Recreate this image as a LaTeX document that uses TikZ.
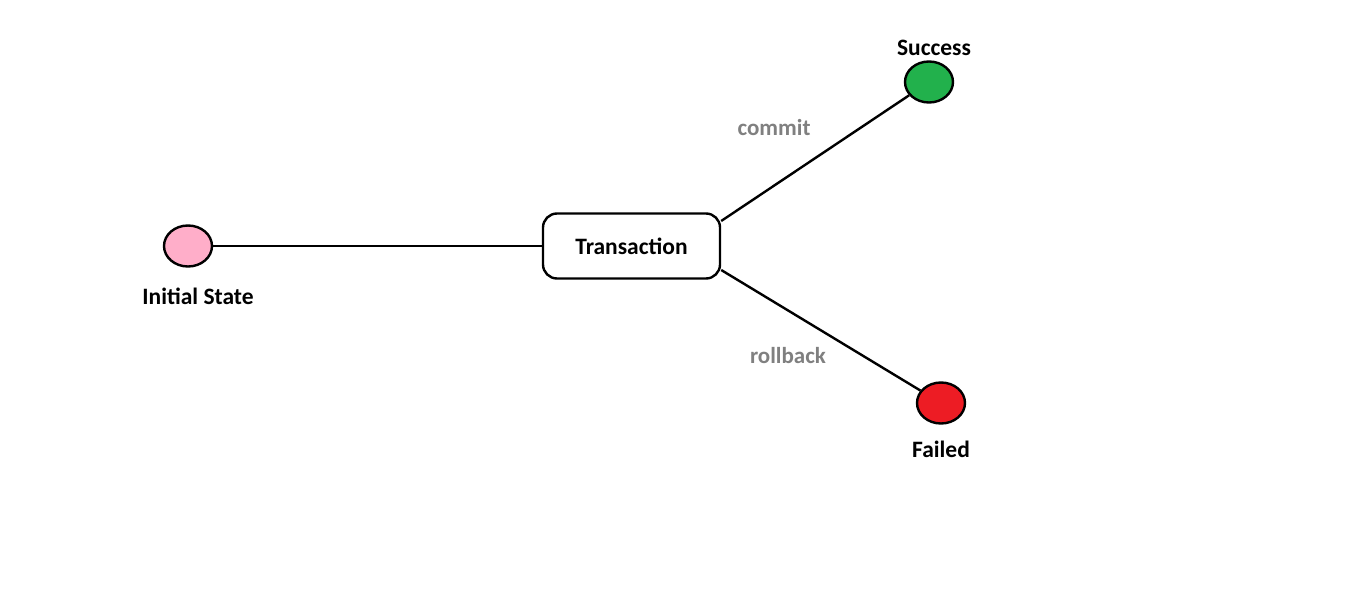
\documentclass[tikz,border=0pt]{standalone}
\usepackage{fontspec}
\setmainfont{Carlito}
\usetikzlibrary{shapes.geometric}
\definecolor{initpink}{RGB}{255,174,201}
\definecolor{succgreen}{RGB}{34,177,76}
\definecolor{failred}{RGB}{237,28,36}
\begin{document}
\begin{tikzpicture}[x=1pt, y=-1pt, line width=2.4pt,
		st/.style={ellipse, draw, minimum width=48pt, minimum height=41pt, inner sep=0pt},
		lbl/.style={font=\bfseries\fontsize{23.5}{27}\selectfont},
		act/.style={font=\bfseries\fontsize{23}{27}\selectfont, text=black!50}]
			\useasboundingbox (0, 0) rectangle (1360, 613);

			\node[st, fill=initpink] (init) at (188, 246) {};
			\node[st, fill=succgreen] (succ) at (929, 82) {};
			\node[st, fill=failred] (fail) at (941, 403) {};
			\node[draw, rounded corners=14pt, minimum width=177pt, minimum height=65pt, lbl] (trans) at (631.5, 246) {Transaction};

			\node[lbl] (initl) at (198, 296) {Initial State};
			\node[lbl] (succl) at (934, 48) {Success};
			\node[lbl] (faill) at (941, 449) {Failed};
			\node[act] (commit) at (774, 128) {commit};
			\node[act] (rollback) at (788, 356) {rollback};

			\draw (init) -- (trans);
			\draw ([yshift=25pt]trans.east) -- (succ);
			\draw ([yshift=-24pt]trans.east) -- (fail);
		\end{tikzpicture}
\end{document}
